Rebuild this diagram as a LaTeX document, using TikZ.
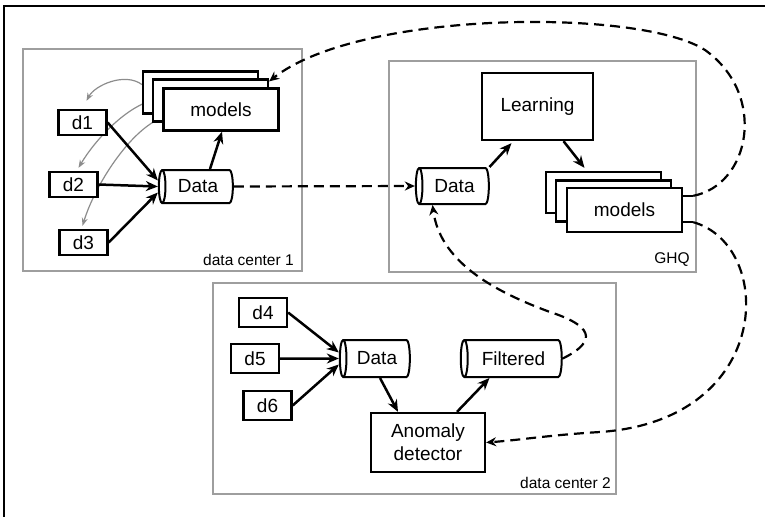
\documentclass[tikz,border=0pt]{standalone}
\usepackage{fontspec}
\setmainfont{Liberation Sans}
\usetikzlibrary{shapes.geometric,arrows.meta,calc,backgrounds}

\begin{document}
\begin{tikzpicture}[x=1pt,y=-1pt,
  font=\fontsize{19}{21}\selectfont,
  container/.style={draw=black!38, line width=1.8pt, inner sep=0pt},
  lbl/.style={font=\fontsize{15.5}{17}\selectfont, inner sep=0pt},
  box/.style={draw, line width=2.3pt, fill=white, inner sep=0pt},
  dev/.style={box, minimum width=48pt, minimum height=25pt},
  mbox/.style={box, minimum width=115pt, minimum height=42pt},
  cyl/.style={cylinder, shape border rotate=180, draw, line width=2pt, fill=white,
    aspect=0.5, inner sep=0pt},
  arr/.style={line width=2.5pt, -{Stealth[length=12pt,width=10pt]}},
  garr/.style={draw=black!45, line width=1.2pt, -{Stealth[length=8pt,width=6pt]}},
  darr/.style={line width=2.2pt, dash pattern=on 10pt off 6pt, -{Stealth[length=10pt,width=9pt,open]}},
]
\useasboundingbox (0,0) rectangle (765,517);

% page frame
\draw[line width=1.4pt] (765,6) -- (4,6) -- (4,517);

% ---- containers
\node[container, minimum width=279pt, minimum height=222pt] (dc1) at (162.5,160) {};
\node[container, minimum width=307pt, minimum height=211pt] (ghq) at (542.5,166.5) {};
\node[container, minimum width=403pt, minimum height=211pt] (dc2) at (414.5,388.5) {};
\node[lbl, anchor=south east] (dc1lbl) at ($(dc1.south east)+(-9,-6)$) {data center 1};
\node[lbl, anchor=south east] (ghqlbl) at ($(ghq.south east)+(-7,-6)$) {GHQ};
\node[lbl, anchor=south east] (dc2lbl) at ($(dc2.south east)+(-6,-6)$) {data center 2};

% ---- data center 1
\node[mbox] (m1a) at (200.5,92.5) {};
\node[mbox] (m1b) at (210.5,100.5) {};
\node[mbox] (m1c) at (221,109.5) {models};

\node[dev] (d1) at (82.5,122.5) {d1};
\node[dev] (d2) at (73.5,184.5) {d2};
\node[dev] (d3) at (83.5,242.5) {d3};

% models pushed to each device, running behind the boxes
\begin{scope}[on background layer]
\draw[garr] ($(m1a.west)+(0,-8)$) .. controls (125,72) and (95,85) .. ($(d1.north)+(4,-8)$);
\draw[garr] (m1b.west) .. controls (125,108) and (95,140) .. ($(d2.north)+(5,-3)$);
\draw[garr] ($(m1c.west)+(0,8)$) .. controls (130,130) and (95,185) .. ($(d3.north)+(-1,-3)$);
\end{scope}

\node[cyl, minimum height=74pt, minimum width=33pt] (data1) at (198,186.5) {Data};

\draw[arr] (d1.east) -- ($(data1.west)+(0,-6)$);
\draw[arr] (d2.east) -- (data1.west);
\draw[arr] (d3.east) -- ($(data1.west)+(0,6)$);
\draw[arr] ($(data1.north)+(12,0)$) -- ($(m1c.south)+(1,0)$);

% ---- GHQ
\node[box, minimum width=111pt, minimum height=67pt] (learn) at (537.5,106.5) {Learning};
\node[cyl, minimum height=73pt, minimum width=36pt] (data2) at (454.5,186) {Data};
\node[mbox, minimum height=41pt] (m2a) at (603.5,192.5) {};
\node[mbox, minimum height=41pt] (m2b) at (613.5,201) {};
\node[mbox, minimum height=44pt] (m2c) at (624.5,210) {models};
\draw[arr] ($(data2.north)+(35,0)$) -- ($(learn.south)+(-26,2)$);
\draw[arr] ($(learn.south)+(26,0)$) -- ($(m2a.north)+(-19,-3)$);

\coordinate (s1) at ($(m2c.north east)+(10,9)$);
\coordinate (s2) at ($(m2c.south east)+(10,-11)$);
\draw[line width=2pt] ($(m2c.north east)+(0,9)$) -- (s1);
\draw[line width=2pt] ($(m2c.south east)+(0,-11)$) -- (s2);

% ---- data center 2
\node[dev, minimum height=29pt] (d4) at (263,312.5) {d4};
\node[dev, minimum height=29pt] (d5) at (255,358.5) {d5};
\node[dev, minimum height=29pt] (d6) at (267.5,405.5) {d6};
\node[cyl, minimum height=70pt, minimum width=37pt] (data3) at (377,358.5) {Data};
\node[cyl, minimum height=101pt, minimum width=37pt] (filt) at (513.5,358.5) {Filtered};
\node[box, minimum width=114pt, minimum height=59pt, align=center,
      font=\fontsize{19}{23}\selectfont] (anom) at (428,442.5) {Anomaly\\detector};
\draw[arr] (d4.east) -- ($(data3.west)+(0,-6)$);
\draw[arr] (d5.east) -- (data3.west);
\draw[arr] (d6.east) -- ($(data3.west)+(0,6)$);
\draw[arr] ($(data3.south)+(3,0)$) -- ($(anom.north)+(-30,0)$);
\draw[arr] ($(anom.north)+(29,0)$) -- ($(filt.south)+(-24,0)$);

% ---- dashed transfers
\draw[darr] (data1.east) -- (data2.west);
\draw[darr] (s1) .. controls (750,185) and (768,95) .. (705,50)
  .. controls (640,8) and (360,10) .. ($(m1a.north east)+(10,11)$);
\draw[darr] (s2) .. controls (775,245) and (775,420) .. (600,432)
  .. controls (550,435) and (520,440) .. (anom.east);
\draw[darr] (filt.east) .. controls (600,340) and (590,325) .. (550,312)
  .. controls (490,290) and (440,260) .. ($(data2.south)+(-22,0)$);
\end{tikzpicture}
\end{document}
